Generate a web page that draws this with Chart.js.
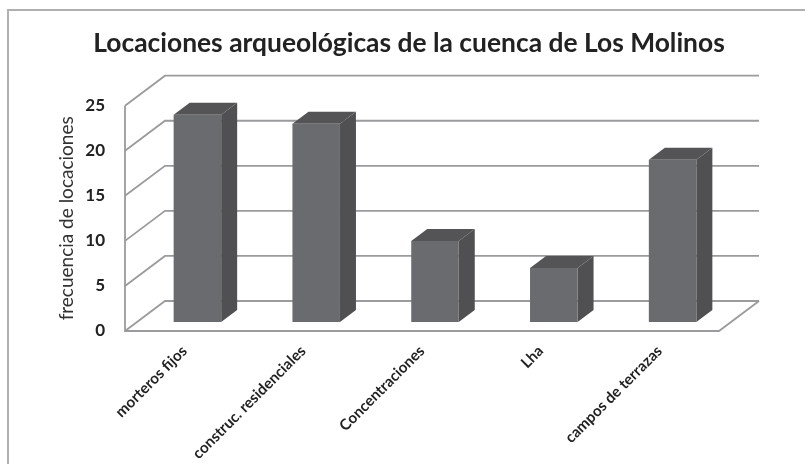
<!DOCTYPE html>
<html>
<head>
<meta charset="utf-8">
<script src="https://cdn.jsdelivr.net/npm/chart.js@4"></script>
<style>
  html, body { margin: 0; padding: 0; background: #fff; }
  #wrap { width: 805px; height: 464px; position: relative; }
</style>
</head>
<body>
<div id="wrap"><canvas id="chart" width="805" height="464"></canvas></div>
<script>
const categories = ['morteros fijos', 'construc. residenciales', 'Concentraciones', 'Lha', 'campos de terrazas'];
const frecuencias = [23, 22, 9, 6, 18];
const yTicks = [0, 5, 10, 15, 20, 25];

// 3D look: the back wall and the plane of the bars are shifted from the front axes
const wall = { dx: 40, dy: -30 };
const barPlane = { dx: 13, dy: -9 };
const barDepth = { dx: 16, dy: -12 };
const gridColor = '#9b9b9e';

function poly(ctx, pts, fill) {
  ctx.beginPath();
  pts.forEach((p, i) => i ? ctx.lineTo(p[0], p[1]) : ctx.moveTo(p[0], p[1]));
  ctx.closePath();
  ctx.fillStyle = fill;
  ctx.fill();
}

const fake3d = {
  id: 'fake3d',
  beforeDatasetsDraw(chart) {
    const { ctx, scales: { x, y } } = chart;
    const left = x.left, right = x.right;
    ctx.save();
    ctx.lineWidth = 1.8;
    ctx.strokeStyle = gridColor;
    yTicks.forEach((t) => {
      const py = y.getPixelForValue(t);
      ctx.beginPath();
      ctx.moveTo(left, py);
      ctx.lineTo(left + wall.dx, py + wall.dy);
      ctx.lineTo(right + wall.dx, py + wall.dy);
      ctx.stroke();
    });
    // left wall edge, floor front and right edge
    const y0 = y.getPixelForValue(0);
    ctx.beginPath();
    ctx.moveTo(left, y.getPixelForValue(25));
    ctx.lineTo(left, y0);
    ctx.lineTo(right, y0);
    ctx.lineTo(right + wall.dx, y0 + wall.dy);
    ctx.stroke();
    ctx.restore();
  },
  beforeDatasetDraw(chart) {
    const ctx = chart.ctx;
    ctx.save();
    chart.getDatasetMeta(0).data.forEach((bar) => {
      const half = bar.width / 2;
      const l = bar.x - half + barPlane.dx, r = bar.x + half + barPlane.dx;
      const t = bar.y + barPlane.dy, b = bar.base + barPlane.dy;
      poly(ctx, [[r, t], [r + barDepth.dx, t + barDepth.dy], [r + barDepth.dx, b + barDepth.dy], [r, b]], '#505052');
      poly(ctx, [[l, t], [l + barDepth.dx, t + barDepth.dy], [r + barDepth.dx, t + barDepth.dy], [r, t]], '#545456');
    });
    ctx.translate(barPlane.dx, barPlane.dy);
  },
  afterDatasetDraw(chart) {
    chart.ctx.restore();
  },
  afterDraw(chart) {
    // picture frame: only top and left are inside the crop
    const ctx = chart.ctx;
    ctx.save();
    ctx.strokeStyle = '#b0b0b0';
    ctx.lineWidth = 2;
    ctx.beginPath();
    ctx.moveTo(8, 464);
    ctx.lineTo(8, 10);
    ctx.lineTo(805, 10);
    ctx.stroke();
    ctx.restore();
  }
};

new Chart(document.getElementById('chart'), {
  type: 'bar',
  data: {
    labels: categories,
    datasets: [{
      data: frecuencias,
      backgroundColor: '#6a6b6e',
      borderWidth: 0,
      categoryPercentage: 0.8,
      barPercentage: 0.5
    }]
  },
  plugins: [fake3d],
  options: {
    responsive: false,
    animation: false,
    layout: { padding: { left: 19, right: 6, top: 0, bottom: 0 } },
    plugins: {
      legend: { display: false },
      tooltip: { enabled: false },
      title: {
        display: true,
        text: 'Locaciones arqueológicas de la cuenca de Los Molinos',
        color: '#222',
        font: { family: 'Lato', size: 26.4, weight: 'bold' },
        padding: { top: 28, bottom: 46 }
      }
    },
    scales: {
      x: {
        grid: { display: false },
        border: { display: false },
        ticks: {
          color: '#222',
          font: { family: 'Lato', size: 15.2, weight: 'bold' },
          minRotation: 45,
          maxRotation: 45,
          padding: 3
        },
        afterFit(scale) { scale.height = 133; }
      },
      y: {
        min: 0,
        max: 25,
        grid: { display: false },
        border: { display: false },
        ticks: {
          stepSize: 5,
          color: '#222',
          padding: 12,
          font: { family: 'Lato', size: 17, weight: 'bold' }
        },
        title: {
          display: true,
          text: 'frecuencia de locaciones',
          color: '#333',
          font: { family: 'Lato', size: 19 },
          padding: { top: 36, bottom: 0 }
        },
        afterFit(scale) { scale.width = 106; }
      },
      gap: {
        position: 'right',
        grid: { display: false },
        border: { display: false },
        ticks: { display: false },
        afterFit(scale) { scale.width = 80; }
      }
    }
  }
});
</script>
</body>
</html>
